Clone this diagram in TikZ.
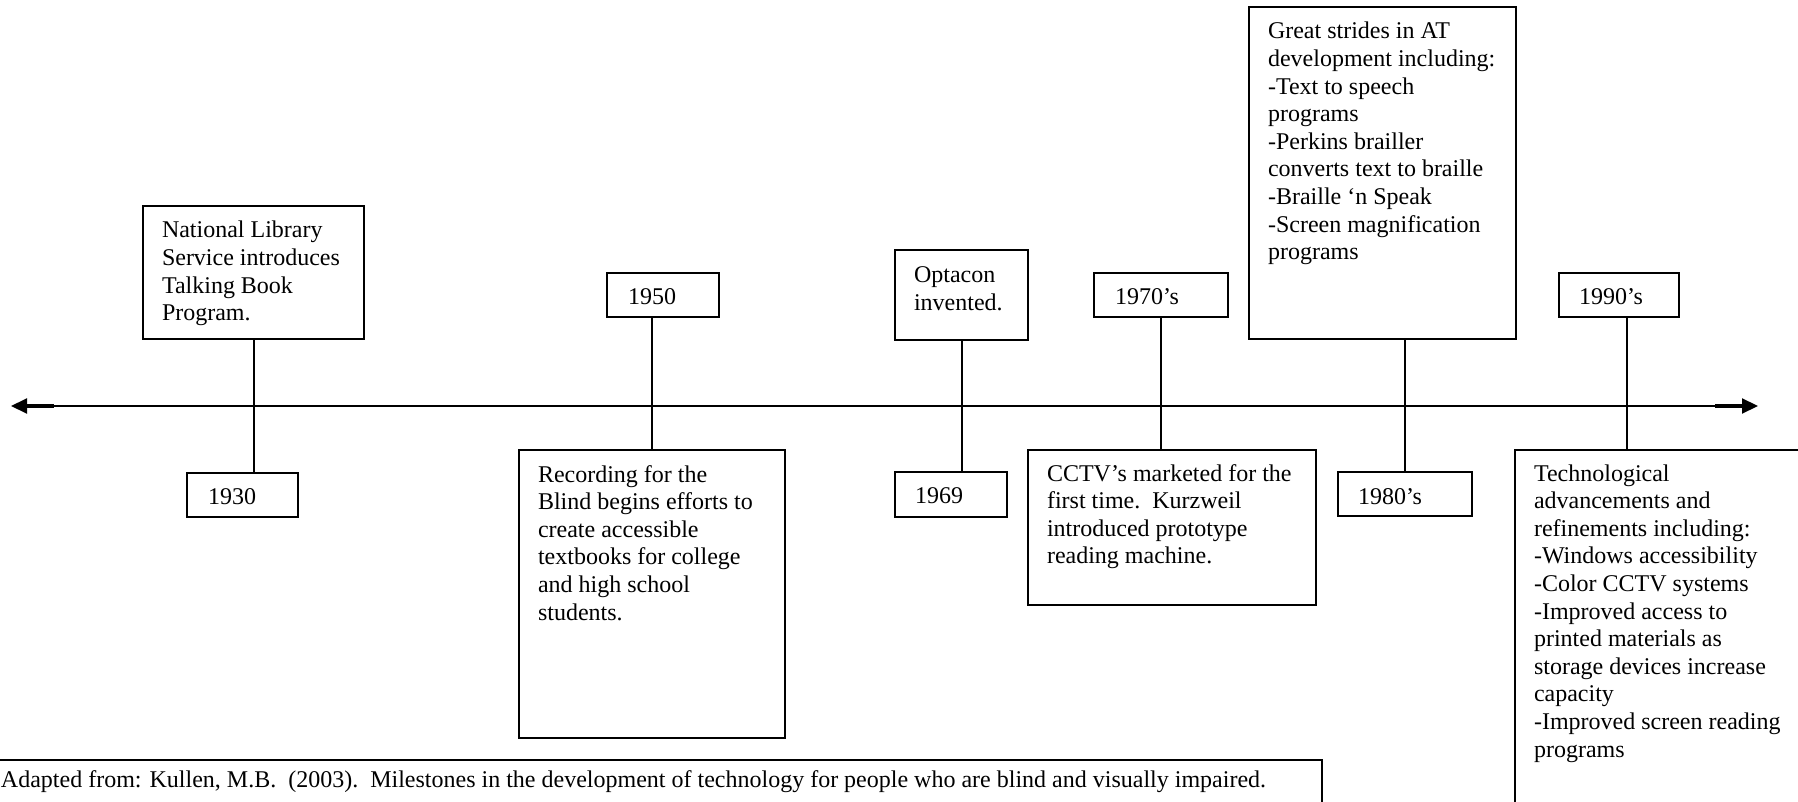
\documentclass[tikz,border=0pt]{standalone}
\usepackage{fontspec}
\setmainfont{Liberation Serif}
\usetikzlibrary{fit,arrows.meta,calc}
\newcommand\lines[1]{\begin{tabular}[t]{@{}l@{}}#1\end{tabular}}
\begin{document}
\begin{tikzpicture}[x=0.5pt,y=-0.5pt,
  box/.style={draw, line width=1pt, inner sep=0pt, outer sep=0pt},
  txt/.style={inner sep=0pt, outer sep=0pt, anchor=base west, font=\fontsize{12pt}{13.8pt}\selectfont},
  stem/.style={line width=1pt},
  thickend/.style={line width=2pt}]
\useasboundingbox (0,0) rectangle (1798,802);
\clip (0,0) rectangle (1798,802);

% boxes
\node[box, fit={(143,206)(364,339)}] (nat) {};
\node[box, fit={(187,473)(298,517)}] (y1930) {};
\node[box, fit={(607,273)(719,317)}] (y1950) {};
\node[box, fit={(519,450)(785,738)}] (rec) {};
\node[box, fit={(895,250)(1028,340)}] (opt) {};
\node[box, fit={(895,472)(1007,517)}] (y1969) {};
\node[box, fit={(1094,273)(1228,317)}] (y1970) {};
\node[box, fit={(1028,450)(1316,605)}] (cctv) {};
\node[box, fit={(1249,7)(1516,339)}] (great) {};
\node[box, fit={(1338,472)(1472,516)}] (y1980) {};
\node[box, fit={(1559,273)(1679,317)}] (y1990) {};
\node[box, fit={(1515,450)(1830,840)}] (tech) {};
\node[box, fit={(-20,760)(1322,840)}] (foot) {};

% texts
\node[txt] (nat-t) at (162,238) {\lines{National Library\\Service introduces\\Talking Book\\Program.}};
\node[txt] (y1930-t) at (208,504) {1930};
\node[txt] (y1950-t) at (628,305) {1950};
\node[txt] (rec-t) at (538,482) {\lines{Recording for the\\Blind begins efforts to\\create accessible\\textbooks for college\\and high school\\students.}};
\node[txt] (opt-t) at (914,283) {\lines{Optacon\\invented.}};
\node[txt] (y1969-t) at (915,503) {1969};
\node[txt] (y1970-t) at (1115,304) {1970’s};
\node[txt] (cctv-t) at (1047,481) {\lines{CCTV’s marketed for the\\first time.~~Kurzweil\\introduced prototype\\reading machine.}};
\node[txt] (great-t) at (1268,39) {\lines{Great strides in AT\\development including:\\-Text to speech\\programs\\-Perkins brailler\\converts text to braille\\-Braille ‘n Speak\\-Screen magnification\\programs}};
\node[txt] (y1980-t) at (1358,504) {1980’s};
\node[txt] (y1990-t) at (1579,305) {1990’s};
\node[txt] (tech-t) at (1534,481) {\lines{Technological\\advancements and\\refinements including:\\-Windows accessibility\\-Color CCTV systems\\-Improved access to\\printed materials as\\storage devices increase\\capacity\\-Improved screen reading\\programs}};
\node[txt] (foot-t) at (1,787) {Adapted from: Kullen, M.B.~~(2003).~~Milestones in the development of technology for people who are blind and visually impaired.};

% stems
\draw[stem] (nat.south) -- (nat.south |- y1930.north);
\draw[stem] (rec.north) -- (rec.north |- y1950.south);
\draw[stem] (opt.south) -- (opt.south |- y1969.north);
\draw[stem] (y1970.south) -- (y1970.south |- cctv.north);
\draw[stem] (y1980.north) -- (y1980.north |- great.south);
\coordinate (s90) at ($(y1990.south)+(8,0)$);
\draw[stem] (s90) -- (s90 |- tech.north);

% axis
\coordinate (axL) at (11,406);
\coordinate (axR) at (1758,406);
\draw[line width=1pt, {Triangle[length=8pt,width=7.5pt]}-{Triangle[length=8pt,width=7.5pt]}] (axL) -- (axR);
\draw[thickend] ($(axL)+(14,0)$) -- ($(axL)+(43,0)$);
\draw[thickend] ($(axR)+(-14,0)$) -- ($(axR)+(-43,0)$);
\end{tikzpicture}
\end{document}
